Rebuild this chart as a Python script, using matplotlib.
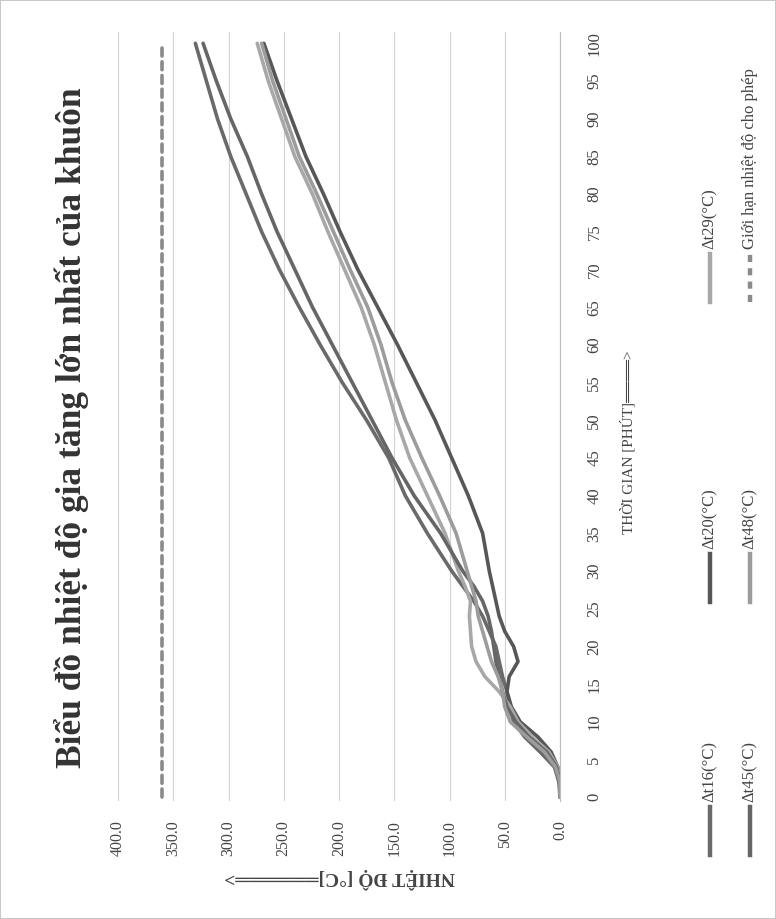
import matplotlib
matplotlib.use("Agg")
import matplotlib.pyplot as plt
from matplotlib.lines import Line2D

# time in minutes
time_min = [0, 2, 4, 6, 8, 10, 12, 14, 16, 18, 20, 22, 24, 26, 28, 30,
            35, 40, 45, 50, 55, 60, 65, 70, 75, 80, 85, 90, 95, 100]

# temperature rise per location (°C)
dt16 = [0, 1, 5, 18, 32, 42, 45, 48, 52, 55, 58, 64, 70, 78, 88, 98,
        120, 140, 155, 175, 197, 217, 236, 254, 270, 284, 298, 310, 320, 330]
dt20 = [0, 0, 2, 8, 20, 36, 44, 48, 46, 38, 42, 50, 55, 58, 61, 64,
        70, 83, 98, 113, 130, 147, 165, 183, 199, 214, 230, 243, 256, 268]
dt29 = [0, 0, 2, 10, 25, 38, 45, 55, 68, 76, 80, 81, 82, 81, 86, 92,
        104, 120, 136, 148, 158, 168, 180, 195, 210, 224, 240, 252, 264, 274]
dt45 = [0, 0, 3, 12, 28, 40, 48, 52, 55, 58, 60, 62, 65, 70, 78, 88,
        108, 132, 152, 170, 188, 206, 224, 240, 256, 270, 283, 298, 311, 323]
dt48 = [0, 0, 4, 14, 30, 45, 50, 52, 56, 62, 66, 70, 74, 76, 80, 84,
        94, 109, 125, 140, 152, 162, 174, 190, 205, 220, 236, 248, 260, 270]
limit_temp = 360

temp_ticks = [0, 50, 100, 150, 200, 250, 300, 350, 400]
time_ticks = list(range(0, 101, 5))

series = [
    ("Δt16(°C)", dt16, "#6a6a6a"),
    ("Δt20(°C)", dt20, "#575757"),
    ("Δt29(°C)", dt29, "#a8a8a8"),
    ("Δt45(°C)", dt45, "#666666"),
    ("Δt48(°C)", dt48, "#9c9c9c"),
]

plt.rcParams['font.family'] = ['Liberation Serif', 'DejaVu Sans']
W, H = 776, 919


def px(x, y):
    return x / W, 1 - y / H


fig = plt.figure(figsize=(W / 100, H / 100), dpi=100)
fig.patch.set_edgecolor("#c8c8c8")
fig.patch.set_linewidth(1.2)

# chart is drawn turned on its side: temperature runs right-to-left, time bottom-to-top
ax = fig.add_axes([118 / W, 1 - 801 / H, 442 / W, 769 / H])
for name, vals, col in series:
    ax.plot(vals, time_min, color=col, lw=2.6, solid_capstyle="round")
ax.plot([limit_temp, limit_temp], [0, 100], color="#8a8a8a", lw=2.6,
        dashes=(2.2, 1.6), dash_capstyle="round")

ax.set_xlim(400, 0)
ax.set_ylim(-0.5, 101.5)
ax.set_xticks(temp_ticks)
ax.set_xticklabels([f"{v:.1f}" for v in temp_ticks], rotation=90)
ax.grid(axis="x", color="#d2d2d2", lw=0.8)
ax.set_axisbelow(True)
ax.yaxis.tick_right()
ax.set_yticks(time_ticks)
ax.set_yticklabels([str(t) for t in time_ticks], rotation=90, va="center")
ax.tick_params(axis="x", length=0, pad=14, labelsize=11.5, labelcolor="#444444")
ax.tick_params(axis="y", length=0, pad=19, labelsize=12, labelcolor="#444444")
for s in ["top", "bottom", "left"]:
    ax.spines[s].set_visible(False)
ax.spines["right"].set_color("#bdbdbd")

fig.text(*px(72, 428), "Biểu đồ nhiệt độ gia tăng lớn nhất của khuôn",
         rotation=90, ha="center", va="center", fontsize=25.5,
         fontweight="bold", color="#333333")
fig.text(*px(340, 878), "NHIỆT ĐỘ [°C]══════>", rotation=180,
         ha="center", va="center", fontsize=14, fontweight="bold", color="#444444")
fig.text(*px(628, 442), "THỜI GIAN [PHÚT]════>", rotation=90,
         ha="center", va="center", fontsize=11, color="#444444")

# legend, two columns
leg_pos = [(710, 855), (710, 602), (710, 302), (750, 855), (750, 602)]
for (name, vals, col), (lx, ly) in zip(series, leg_pos):
    x0, y0 = px(lx, ly)
    x1, y1 = px(lx, ly - 48)
    fig.add_artist(Line2D([x0, x1], [y0, y1], transform=fig.transFigure,
                          color=col, lw=3.2))
    fig.text(*px(lx, ly - 53), name, rotation=90, ha="center", va="bottom",
             fontsize=12, color="#444444")
x0, y0 = px(750, 302)
x1, y1 = px(750, 254)
fig.add_artist(Line2D([x0, x1], [y0, y1], transform=fig.transFigure,
                      color="#8a8a8a", lw=3.2, dashes=(1.6, 1.4)))
fig.text(*px(750, 249), "Giới hạn nhiệt độ cho phép", rotation=90,
         ha="center", va="bottom", fontsize=12, color="#444444")

fig.savefig("out.png", dpi=100)
